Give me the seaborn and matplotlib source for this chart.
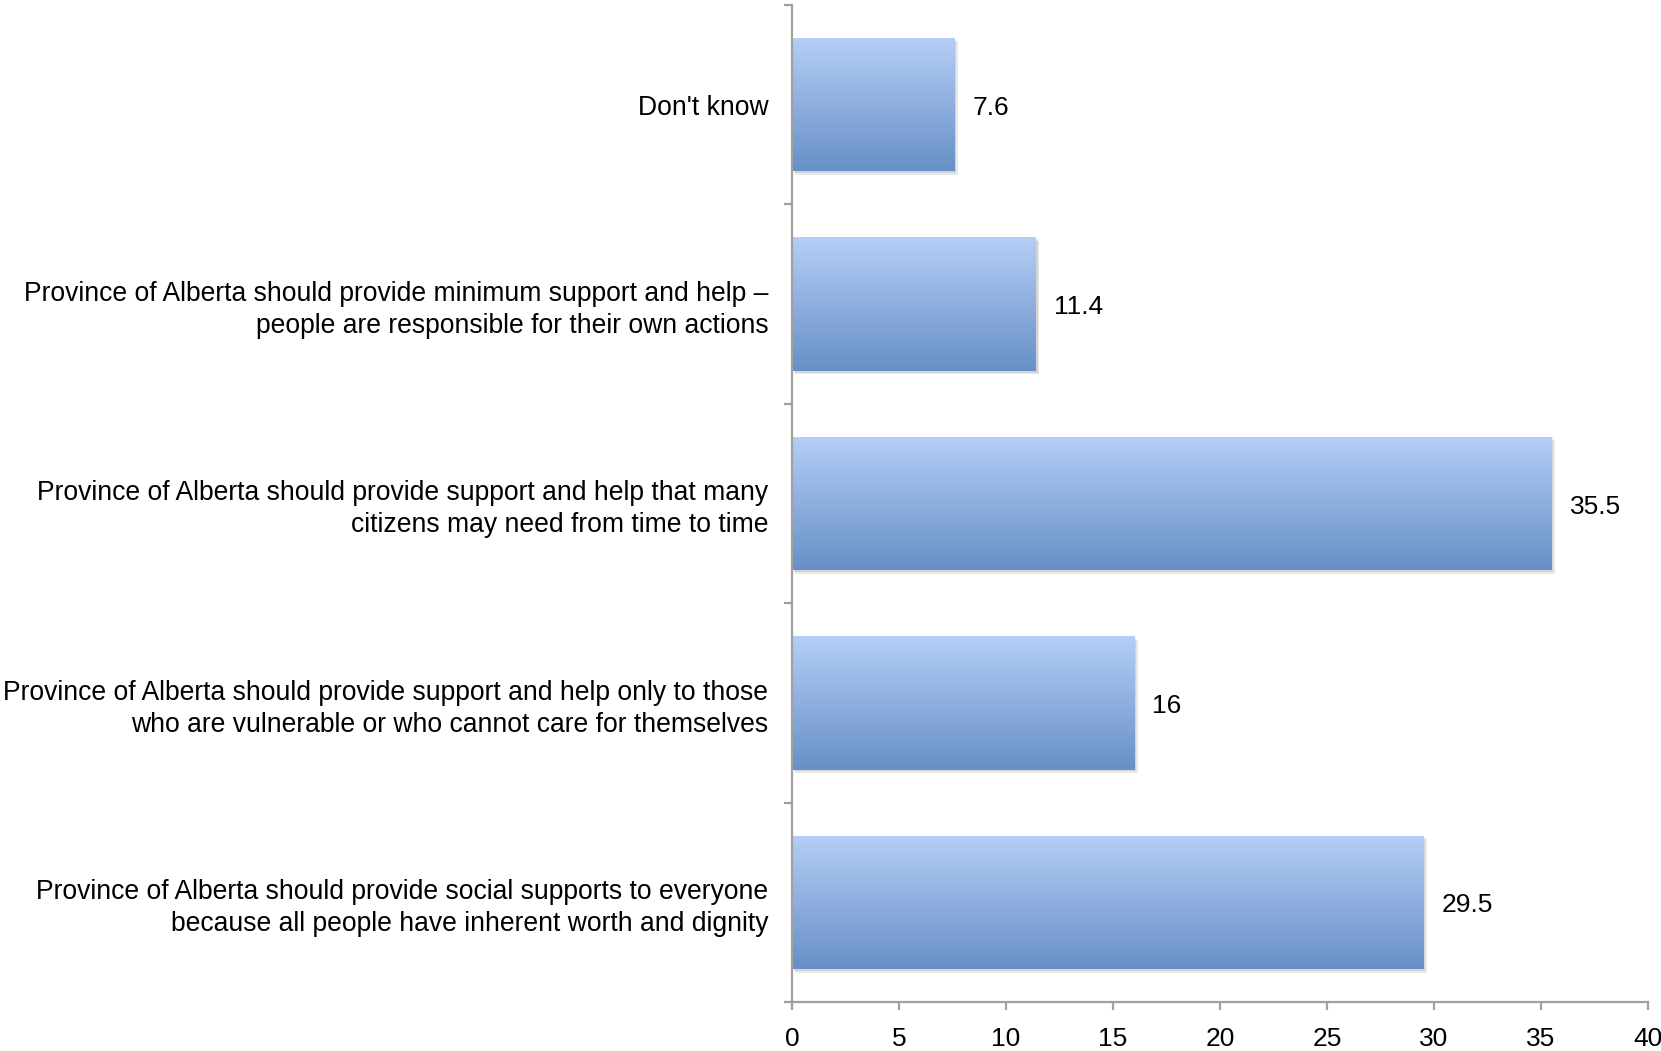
import numpy as np
import pandas as pd
import matplotlib
matplotlib.use("Agg")
import matplotlib.pyplot as plt
import matplotlib.patheffects as pe
from matplotlib.colors import LinearSegmentedColormap
from matplotlib.ticker import FixedLocator
import seaborn as sns

# Survey responses, listed top to bottom
categories = [
    "Don't know",
    "Province of Alberta should provide minimum support and help \u2013\npeople are responsible for their own actions",
    "Province of Alberta should provide support and help that many\ncitizens may need from time to time",
    "Province of Alberta should provide support and help only to those\nwho are vulnerable or who cannot care for themselves",
    "Province of Alberta should provide social supports to everyone\nbecause all people have inherent worth and dignity",
]
percentages = [7.6, 11.4, 35.5, 16, 29.5]
x_ticks = [0, 5, 10, 15, 20, 25, 30, 35, 40]

sns.set_theme(style="white")
plt.rcParams["font.family"] = ["Liberation Sans", "DejaVu Sans"]

df = pd.DataFrame({"response": categories, "pct": percentages})

fig = plt.figure(figsize=(16.61, 10.51), dpi=100)
ax = fig.add_axes([792 / 1661, 49 / 1051, 856 / 1661, 997 / 1051])

sns.barplot(data=df, y="response", x="pct", orient="h", width=0.67,
            color="#6891c8", ax=ax, saturation=1)

# Vertical light-to-dark gradient inside every bar, with a soft drop shadow
cmap = LinearSegmentedColormap.from_list("barfade", ["#b5cef7", "#6790c7"])
grad = np.linspace(0, 1, 256).reshape(-1, 1)
for bar in ax.patches:
    bar.set_edgecolor("none")
    bar.set_path_effects([
        pe.SimplePatchShadow(offset=(2.5, -2.5), shadow_rgbFace="#000000", alpha=0.09),
        pe.SimplePatchShadow(offset=(1.2, -1.2), shadow_rgbFace="#000000", alpha=0.09),
        pe.Normal(),
    ])
    x0, y0 = bar.get_x(), bar.get_y()
    w, h = bar.get_width(), bar.get_height()
    im = ax.imshow(grad, cmap=cmap, aspect="auto", interpolation="bilinear",
                   extent=(x0, x0 + w, y0 + h, y0), origin="upper", zorder=bar.get_zorder() + 0.1)
    im.set_clip_path(bar)

ax.set_xlim(0, 40)
ax.set_ylim(len(categories) - 0.5, -0.5)
ax.xaxis.set_major_locator(FixedLocator(x_ticks))

# Value labels just past the end of each bar
value_texts = ax.bar_label(ax.containers[0], labels=[f"{v:g}" for v in percentages],
                           padding=13, fontsize=19, color="black")
for t in value_texts:
    t.xyann = (13, -2.3)

ax.set_xlabel("")
ax.set_ylabel("")

for side in ["top", "right"]:
    ax.spines[side].set_visible(False)
for side in ["left", "bottom"]:
    ax.spines[side].set_color("#a0a0a0")
    ax.spines[side].set_linewidth(1.6)

# Category boundaries carry the tick marks; labels sit at bar centers
ax.yaxis.set_minor_locator(FixedLocator(np.arange(-0.5, len(categories), 1.0)))
ax.tick_params(axis="y", which="major", length=0, pad=17, labelsize=19.1, labelcolor="black")
ax.tick_params(axis="y", which="minor", left=True, length=6, width=1.6, color="#a0a0a0")
ax.tick_params(axis="x", which="major", bottom=True, length=6, width=1.6, color="#a0a0a0",
               pad=12, labelsize=19, labelcolor="black")
for lbl in ax.get_yticklabels():
    lbl.set_linespacing(1.29)

fig.savefig("out.png", dpi=100, facecolor="white")
